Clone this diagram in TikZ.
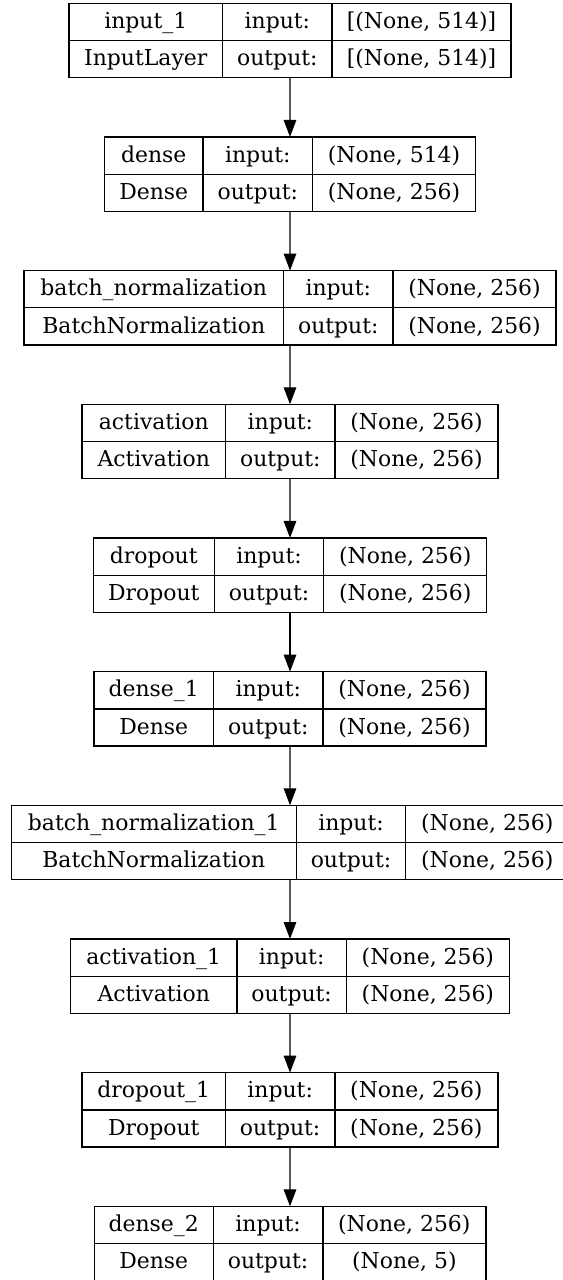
\documentclass[tikz,border=0pt]{standalone}
\usepackage{fontspec}
\setmainfont{DejaVu Serif}
\usetikzlibrary{positioning,fit,arrows.meta}

\begin{document}
\begin{tikzpicture}[x=1bp,y=-1bp,
    cell/.style={draw, line width=1.3bp, inner sep=0pt, outer sep=0pt,
        minimum height=37.2bp, text height=16bp, text depth=2.6bp,
        font=\fontsize{22}{26}\selectfont},
    layerbox/.style={inner sep=0pt, outer sep=0pt},
    flow/.style={-{Triangle[length=17bp,width=12.5bp]}, line width=1.3bp}]
    \useasboundingbox (0,0) rectangle (563,1280);
    \foreach \i/\w/\wo/\nm/\tp/\inp/\outp in {
        1/153.7/179/input\_1/InputLayer/{[(None, 514)]}/{[(None, 514)]},
        2/98.7/163/dense/Dense/{(None, 514)}/{(None, 256)},
        3/259.6/163/batch\_normalization/BatchNormalization/{(None, 256)}/{(None, 256)},
        4/143.7/163/activation/Activation/{(None, 256)}/{(None, 256)},
        5/121/163/dropout/Dropout/{(None, 256)}/{(None, 256)},
        6/119.5/163/dense\_1/Dense/{(None, 256)}/{(None, 256)},
        7/285/163/batch\_normalization\_1/BatchNormalization/{(None, 256)}/{(None, 256)},
        8/166.3/163/activation\_1/Activation/{(None, 256)}/{(None, 256)},
        9/143.3/163/dropout\_1/Dropout/{(None, 256)}/{(None, 256)},
        10/119.2/163/dense\_2/Dense/{(None, 256)}/{(None, 5)}}
    {
        \pgfmathsetmacro\bx{290-(\w+109.5+\wo)/2}
        \pgfmathsetmacro\by{3.3+133.67*(\i-1)}
        \node[cell, anchor=north west, minimum width=\w bp] (n\i) at (\bx,\by) {\nm};
        \node[cell, minimum width=\w bp, below=0pt of n\i] (t\i) {\tp};
        \node[cell, minimum width=109.5bp, right=0pt of n\i] (i\i) {input:};
        \node[cell, minimum width=109.5bp, right=0pt of t\i] (o\i) {output:};
        \node[cell, minimum width=\wo bp, right=0pt of i\i] (si\i) {\inp};
        \node[cell, minimum width=\wo bp, right=0pt of o\i] (so\i) {\outp};
        \node[layerbox, fit=(n\i)(so\i)] (l\i) {};
    }
    \foreach \i [evaluate=\i as \j using int(\i+1)] in {1,...,9}
        \draw[flow] (l\i) -- (l\j);
\end{tikzpicture}
\end{document}
